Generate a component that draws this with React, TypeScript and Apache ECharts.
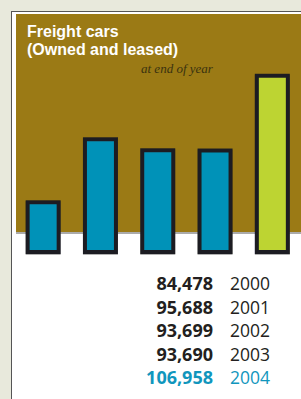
import React, { useEffect, useRef } from "react";
import * as echarts from "echarts";

const years = ["2000", "2001", "2002", "2003", "2004"];
const freightCars = [84478, 95688, 93699, 93690, 106958];
const highlightYear = "2004";

const titleLines = ["Freight cars", "(Owned and leased)"];
const subtitle = "at end of year";

const BEIGE = "#e8e9dc";
const OLIVE = "#9b7a15";
const BLUE = "#0092b8";
const GREEN = "#bdd430";
const DARK = "#1f1f22";
const HILITE = "#1196bd";

export default function App() {
  const ref = useRef<HTMLDivElement>(null);

  useEffect(() => {
    if (!ref.current) return;
    const chart = echarts.init(ref.current, null, { renderer: "svg" });
    const fmt = (v: number) => v.toLocaleString("en-US");
    const tableTexts: any[] = [];
    years.forEach((y, i) => {
      const hi = y === highlightYear;
      const cy = 283 + i * 23.5;
      tableTexts.push({
        type: "text",
        x: 213,
        y: cy,
        style: {
          text: fmt(freightCars[i]),
          fill: hi ? HILITE : "#231f20",
          font: 'bold 18px "Open Sans"',
          align: "right",
          verticalAlign: "middle",
        },
      });
      tableTexts.push({
        type: "text",
        x: 230,
        y: cy,
        style: {
          text: y,
          fill: hi ? HILITE : "#231f20",
          font: '17.5px "Open Sans"',
          align: "left",
          verticalAlign: "middle",
        },
      });
    });

    const titleTexts = titleLines.map((t, i) => ({
      type: "text",
      x: 27,
      y: 31.2 + i * 18.5,
      style: {
        text: t,
        fill: "#ffffff",
        font: 'bold 16px "Liberation Sans"',
        align: "left",
        verticalAlign: "middle",
      },
    }));

    chart.setOption({
      animation: false,
      backgroundColor: BEIGE,
      grid: { left: 14.5, width: 295, top: 73.6, bottom: 147 },
      xAxis: {
        type: "category",
        data: years,
        show: false,
      },
      yAxis: {
        type: "value",
        min: 75250,
        max: 107000,
        show: false,
        splitLine: { show: false },
      },
      graphic: [
        { type: "rect", shape: { x: 12, y: 12, width: 300, height: 400 }, style: { fill: "#ffffff" } },
        { type: "line", shape: { x1: 11.5, y1: 11, x2: 11.5, y2: 399 }, style: { stroke: "#555555", lineWidth: 1 } },
        { type: "line", shape: { x1: 11, y1: 11.5, x2: 301, y2: 11.5 }, style: { stroke: "#555555", lineWidth: 1 } },
        { type: "rect", shape: { x: 16, y: 14, width: 290, height: 218 }, style: { fill: OLIVE } },
        { type: "line", shape: { x1: 16, y1: 233, x2: 301, y2: 233 }, style: { stroke: "#8f8f8f", lineWidth: 1.5 } },
        ...titleTexts,
        {
          type: "text",
          x: 141,
          y: 68,
          style: { text: subtitle, fill: "#3a3210", font: 'italic 13px "Liberation Serif"', align: "left", verticalAlign: "middle" },
        },
        ...tableTexts,
      ],
      series: [
        {
          type: "bar",
          barWidth: 35,
          data: freightCars.map((v, i) => ({
            value: v,
            itemStyle: { color: years[i] === highlightYear ? GREEN : BLUE },
          })),
          itemStyle: {
            borderColor: DARK,
            borderWidth: 4,
            shadowColor: "rgba(0,0,0,0.3)",
            shadowOffsetY: 1,
            shadowOffsetX: 0,
            shadowBlur: 1,
          },
        },
      ],
    });
    return () => chart.dispose();
  }, []);

  return (
    <div
      ref={ref}
      style={{ position: "fixed", left: 0, top: 0, width: 301, height: 399 }}
    />
  );
}
